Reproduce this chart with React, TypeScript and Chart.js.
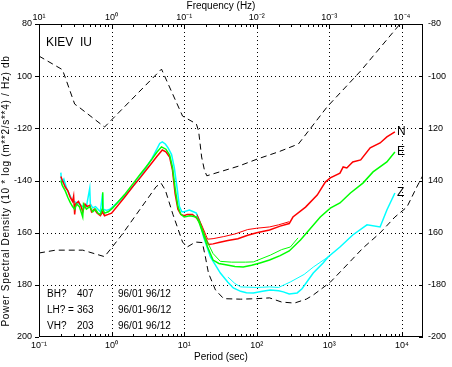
import React, { useEffect, useRef } from 'react';
import { Chart, registerables } from 'chart.js';

Chart.register(...registerables);

// ---- axis ticks / labels ----
const periodTicks = [0.1, 1, 10, 100, 1000, 10000];
const periodLabels = ['10⁻¹', '10⁰', '10¹', '10²', '10³', '10⁴'];
const freqLabels = ['10¹', '10⁰', '10⁻¹', '10⁻²', '10⁻³', '10⁻⁴'];
const psdTicks = [-200, -180, -160, -140, -120, -100, -80];
const leftLabels = ['200', '180', '160', '-140', '-120', '100', '80'];
const rightLabels = ['-200', '-180', '160', '140', '120', '-100', '-80'];
const periodMin = 0.1;
const periodMax = 19500;

// ---- texts ----
const stationName = 'KIEV  IU';
const channelNames = ['BH?', 'LH? =', 'VH?'];
const channelCounts = ['407', '363', '203'];
const channelDates = ['96/01 96/12', '96/01-96/12', '96/01 96/12'];
const componentNames = ['N', 'E', 'Z'];
const xTitle = 'Period (sec)';
const topTitle = 'Frequency (Hz)';
const yTitle = 'Power Spectral Density (10 * log (m**2/s**4) / Hz) db';

// ---- noise models ----
const nhnmPeriod = [0.1, 0.21, 0.23, 0.31, 0.36, 0.8, 4.87, 9.5, 14.7, 15.8, 17.4, 19, 20.5, 57.5, 101, 200, 375, 930, 2700, 9400, 12000];
const nhnmPsd = [-92.3, -97.5, -100.5, -110.7, -112, -119.5, -97.3, -115.3, -118.3, -121, -131, -136, -138.2, -134.4, -131.8, -129, -126, -111.8, -98, -80, -76.5];

const nlnmPeriod = [0.1, 0.17, 0.4, 0.8, 1.37, 4.1, 4.8, 5.5, 7, 9.5, 11, 14.3, 17.8, 19.6, 21.6, 27, 35, 60, 100, 150, 220, 330, 480, 600, 1030, 1740, 2900, 5000, 8000, 11700, 16000, 19500];
const nlnmPsd = [-167.8, -166.7, -166.7, -169.2, -161, -142.4, -141, -143.7, -153, -163.6, -165.5, -163.6, -163.8, -169.3, -175.5, -182, -185.3, -185.5, -185.3, -185, -186.6, -187, -185.5, -183.9, -179, -172.4, -165.9, -160.1, -154, -150.2, -142.5, -138];

// ---- N component (red) ----
const nPeriod = [0.2, 0.21, 0.23, 0.25, 0.27, 0.29, 0.3, 0.31, 0.32, 0.35, 0.38, 0.4, 0.43, 0.46, 0.5, 0.53, 0.58, 0.63, 0.7, 0.75, 0.8, 0.9, 1.0, 1.5, 2.0, 2.5, 3.0, 3.6, 4.2, 5.0, 5.6, 6.3, 6.9, 7.5, 8.2, 9.0, 10, 11, 13, 15, 17, 19, 21.6, 25, 30, 40, 55, 75, 100, 150, 210, 280, 315, 470, 680, 880, 1030, 1400, 1550, 1740, 2100, 2700, 3650, 5000, 6200, 8000];
const nPsd = [-138.5, -140, -142.5, -144, -146.5, -148, -146, -153, -149, -148, -150, -152, -149, -150, -149.5, -152, -151, -152.5, -153.5, -152, -153.5, -153, -152.5, -146.5, -142, -138.8, -136, -133.2, -130.8, -128.3, -129, -131, -136, -145, -151, -153, -153.5, -153, -153, -154.5, -157, -161, -164.5, -164.3, -163.8, -163, -162.3, -161, -160, -159, -157.5, -156.5, -154, -150.2, -145.6, -140.6, -139, -137.2, -134.8, -135.2, -132.9, -132.1, -127.5, -125.6, -123.3, -121.4];
const n2Period = [15, 18, 21, 25, 35, 50, 75, 100, 150, 200, 280];
const n2Psd = [-153, -158, -162.5, -162.3, -161.5, -160.5, -158.8, -158.3, -157.8, -157, -155.8];

// ---- E component (green) ----
const ePeriod = [0.2, 0.21, 0.23, 0.25, 0.27, 0.29, 0.31, 0.33, 0.36, 0.4, 0.41, 0.45, 0.5, 0.55, 0.6, 0.65, 0.7, 0.74, 0.75, 0.76, 0.8, 0.9, 1.03, 1.5, 2.0, 2.5, 3.0, 3.6, 4.2, 4.87, 5.6, 6.3, 6.9, 7.5, 8.2, 9.0, 10, 12, 14.7, 16, 18, 21, 25, 30, 39, 50, 65, 85, 111, 150, 210, 280, 400, 750, 1030, 1400, 1950, 2900, 4000, 6200, 8000];
const ePsd = [-140, -142, -144, -146.5, -148.5, -150, -151, -149, -150, -154, -149, -151, -150, -152, -151, -152.5, -153, -151, -144.5, -151, -152.5, -152, -150.6, -145.5, -141, -137.5, -134.7, -131.8, -129.2, -127.1, -128, -130.2, -135, -143, -150, -153, -154, -153.5, -154, -156, -160, -165.5, -170.5, -171.8, -172.4, -173, -173.2, -172.5, -171.6, -170.5, -168.8, -167, -162.8, -154, -150.6, -148.6, -144.8, -141, -136.7, -132.9, -129.1];
const e2Period = [16, 20, 25, 31.5, 45, 70, 90, 154, 220, 290, 370];
const e2Psd = [-155, -162.5, -168, -171, -171.3, -171.3, -171.2, -168.6, -166.5, -165.5, -162];

// ---- Z component (cyan) ----
const zPeriod = [0.2, 0.205, 0.22, 0.24, 0.26, 0.28, 0.3, 0.33, 0.36, 0.4, 0.45, 0.5, 0.51, 0.55, 0.6, 0.7, 0.75, 0.77, 0.85, 0.95, 1.0, 1.5, 2.0, 2.5, 3.0, 3.6, 4.2, 4.6, 5.0, 5.5, 6.0, 6.7, 7.3, 8.0, 8.6, 9.3, 10, 11.8, 13.4, 14.7, 16.5, 18.5, 23, 31.5, 40, 47.5, 60, 72, 90, 120, 154, 200, 232, 280, 360, 420, 600, 820, 960, 1400, 2100, 3300, 5000, 6200, 8000];
const zPsd = [-137, -141, -139.5, -143, -145, -147, -148, -148.5, -149, -150, -150, -143, -149, -150.5, -150, -152, -145, -151, -151.5, -151, -150.5, -146, -142, -138.5, -135, -131.5, -128, -125.8, -125.2, -126, -127.5, -130, -135, -143, -150, -152, -152, -151.3, -152, -152.5, -156, -161.7, -169.3, -175.5, -179, -181.2, -182.5, -183, -183.1, -182.5, -182, -182.3, -182.7, -183.5, -183.1, -181.5, -175.5, -171.6, -169.3, -165.5, -160.9, -157, -157.8, -151.3, -144.8];
const z2Period = [40, 50, 60, 100, 150, 200, 290, 450, 600, 960];
const z2Psd = [-177, -179.5, -180.8, -181, -180.8, -181, -178.9, -176, -173.2, -169.3];

const FONT = '"Liberation Sans", Arial, Helvetica, sans-serif';

const pts = (xs: number[], ys: number[]) => xs.map((x, i) => ({ x, y: ys[i] }));

const decorPlugin = {
  id: 'decor',
  beforeDatasetsDraw(chart: any) {
    const { ctx, chartArea, scales } = chart;
    const { left, right, top, bottom } = chartArea;
    const xs = scales.x;
    const ys = scales.y;
    ctx.save();
    ctx.strokeStyle = '#000';
    ctx.lineWidth = 1;
    ctx.setLineDash([1, 3]);
    for (const p of periodTicks) {
      const x = Math.round(xs.getPixelForValue(p)) + 0.5;
      if (x > left + 2 && x < right - 2) {
        ctx.beginPath();
        ctx.moveTo(x, top);
        ctx.lineTo(x, bottom);
        ctx.stroke();
      }
    }
    for (const v of psdTicks) {
      const y = Math.round(ys.getPixelForValue(v)) + 0.5;
      if (y > top + 2 && y < bottom - 2) {
        ctx.beginPath();
        ctx.moveTo(left, y);
        ctx.lineTo(right, y);
        ctx.stroke();
      }
    }
    ctx.restore();
  },
  afterDatasetsDraw(chart: any) {
    const { ctx, chartArea, scales } = chart;
    const { left, right, top, bottom } = chartArea;
    const xs = scales.x;
    const ys = scales.y;
    ctx.save();
    ctx.strokeStyle = '#000';
    ctx.lineWidth = 1;
    ctx.setLineDash([]);
    // frame
    ctx.strokeRect(left + 0.5, top + 0.5, right - left - 1, bottom - top - 1);
    // minor / major ticks on top and bottom
    for (let d = -1; d <= 4; d++) {
      for (let k = 1; k <= 9; k++) {
        const p = k * Math.pow(10, d);
        if (p < periodMin || p > periodMax) continue;
        const x = Math.round(xs.getPixelForValue(p)) + 0.5;
        const len = k === 1 ? 5 : 3;
        ctx.beginPath();
        ctx.moveTo(x, top);
        ctx.lineTo(x, top + len);
        ctx.moveTo(x, bottom);
        ctx.lineTo(x, bottom - len);
        ctx.stroke();
      }
    }
    // y ticks on left (outside) and right (inside)
    for (const v of psdTicks) {
      const y = Math.round(ys.getPixelForValue(v)) + 0.5;
      ctx.beginPath();
      ctx.moveTo(left - 4, y);
      ctx.lineTo(left, y);
      ctx.moveTo(right, y);
      ctx.lineTo(right - 4, y);
      ctx.stroke();
    }
    ctx.fillStyle = '#000';
    // axis titles
    ctx.font = `10px ${FONT}`;
    ctx.textAlign = 'center';
    ctx.textBaseline = 'middle';
    ctx.fillText(topTitle, 221, 6);
    ctx.fillText(xTitle, 221, 357);
    ctx.save();
    ctx.translate(6, 191);
    ctx.rotate(-Math.PI / 2);
    try { (ctx as any).letterSpacing = '0.7px'; } catch (e) { /* ignore */ }
    ctx.fillText(yTitle, 0, 0);
    try { (ctx as any).letterSpacing = '0px'; } catch (e) { /* ignore */ }
    ctx.restore();
    // station
    ctx.textAlign = 'left';
    ctx.font = `12px ${FONT}`;
    ctx.fillText(stationName, 46, 43);
    // channel table
    ctx.font = `10px ${FONT}`;
    const rowY = [294, 310, 326];
    for (let i = 0; i < channelNames.length; i++) {
      ctx.fillText(channelNames[i], 47, rowY[i]);
      ctx.fillText(channelCounts[i], 77, rowY[i]);
      ctx.fillText(channelDates[i], 118, rowY[i]);
    }
    // component labels at curve ends
    ctx.font = `12px ${FONT}`;
    const ends = [
      [nPeriod[nPeriod.length - 1], nPsd[nPsd.length - 1]],
      [ePeriod[ePeriod.length - 1], ePsd[ePsd.length - 1]],
      [zPeriod[zPeriod.length - 1], zPsd[zPsd.length - 1]],
    ];
    for (let i = 0; i < componentNames.length; i++) {
      const x = xs.getPixelForValue(ends[i][0]) + 2;
      const y = ys.getPixelForValue(ends[i][1]);
      ctx.fillText(componentNames[i], x, y);
    }
    ctx.restore();
  },
};

export default function App() {
  const ref = useRef<HTMLCanvasElement | null>(null);
  useEffect(() => {
    if (!ref.current) return;
    const line = (data: any, color: string, width: number, dash: number[] = []) => ({
      data,
      borderColor: color,
      backgroundColor: color,
      borderWidth: width,
      borderDash: dash,
      pointRadius: 0,
      showLine: true,
      tension: 0,
      fill: false,
      xAxisID: 'x',
      yAxisID: 'y',
    });
    const tickFont = { family: FONT, size: 9 };
    const chart = new Chart(ref.current, {
      type: 'scatter',
      data: {
        datasets: [
          line(pts(ePeriod, ePsd), '#00ff00', 1.5),
          line(pts(e2Period, e2Psd), '#00ff00', 1),
          line(pts(nPeriod, nPsd), '#ff0000', 1.5),
          line(pts(n2Period, n2Psd), '#ff0000', 1),
          line(pts(zPeriod, zPsd), '#00ffff', 1.5),
          line(pts(z2Period, z2Psd), '#00ffff', 1),
          line(pts(nhnmPeriod, nhnmPsd), '#000000', 1, [6, 4]),
          line(pts(nlnmPeriod, nlnmPsd), '#000000', 1, [6, 4]),
        ],
      },
      options: {
        animation: false,
        responsive: false,
        devicePixelRatio: 1,
        layout: { padding: 0, autoPadding: false },
        plugins: { legend: { display: false }, tooltip: { enabled: false } },
        scales: {
          x: {
            type: 'logarithmic',
            position: 'bottom',
            min: periodMin,
            max: periodMax,
            afterBuildTicks: (s: any) => { s.ticks = periodTicks.map((v) => ({ value: v })); },
            afterFit: (s: any) => { s.height = 30; s.paddingLeft = 0; s.paddingRight = 0; },
            grid: { display: false, drawTicks: false },
            border: { display: false },
            ticks: {
              autoSkip: false, maxRotation: 0, minRotation: 0, padding: 3, color: '#000', font: tickFont,
              callback: (v: any) => periodLabels[periodTicks.indexOf(Number(v))] ?? '',
            },
          },
          x2: {
            type: 'logarithmic',
            position: 'top',
            min: periodMin,
            max: periodMax,
            afterBuildTicks: (s: any) => { s.ticks = periodTicks.map((v) => ({ value: v })); },
            afterFit: (s: any) => { s.height = 24; s.paddingLeft = 0; s.paddingRight = 0; },
            grid: { display: false, drawTicks: false },
            border: { display: false },
            ticks: {
              autoSkip: false, maxRotation: 0, minRotation: 0, padding: 1, color: '#000', font: tickFont,
              callback: (v: any) => freqLabels[periodTicks.indexOf(Number(v))] ?? '',
            },
          },
          y: {
            type: 'linear',
            position: 'left',
            min: -200,
            max: -80,
            afterBuildTicks: (s: any) => { s.ticks = psdTicks.map((v) => ({ value: v })); },
            afterFit: (s: any) => { s.width = 39; },
            grid: { display: false, drawTicks: false },
            border: { display: false },
            ticks: {
              autoSkip: false, padding: 7, color: '#000', font: tickFont,
              callback: (v: any) => leftLabels[psdTicks.indexOf(Number(v))] ?? '',
            },
          },
          y2: {
            type: 'linear',
            position: 'right',
            min: -200,
            max: -80,
            afterBuildTicks: (s: any) => { s.ticks = psdTicks.map((v) => ({ value: v })); },
            afterFit: (s: any) => { s.width = 29; },
            grid: { display: false, drawTicks: false },
            border: { display: false },
            ticks: {
              autoSkip: false, padding: 5, color: '#000', font: tickFont,
              callback: (v: any) => rightLabels[psdTicks.indexOf(Number(v))] ?? '',
            },
          },
        },
      },
      plugins: [decorPlugin],
    } as any);
    return () => chart.destroy();
  }, []);
  return (
    <div style={{ position: 'absolute', left: 0, top: 0, width: 452, height: 367, background: '#fff' }}>
      <canvas ref={ref} width={452} height={367} style={{ display: 'block', width: 452, height: 367 }} />
    </div>
  );
}
